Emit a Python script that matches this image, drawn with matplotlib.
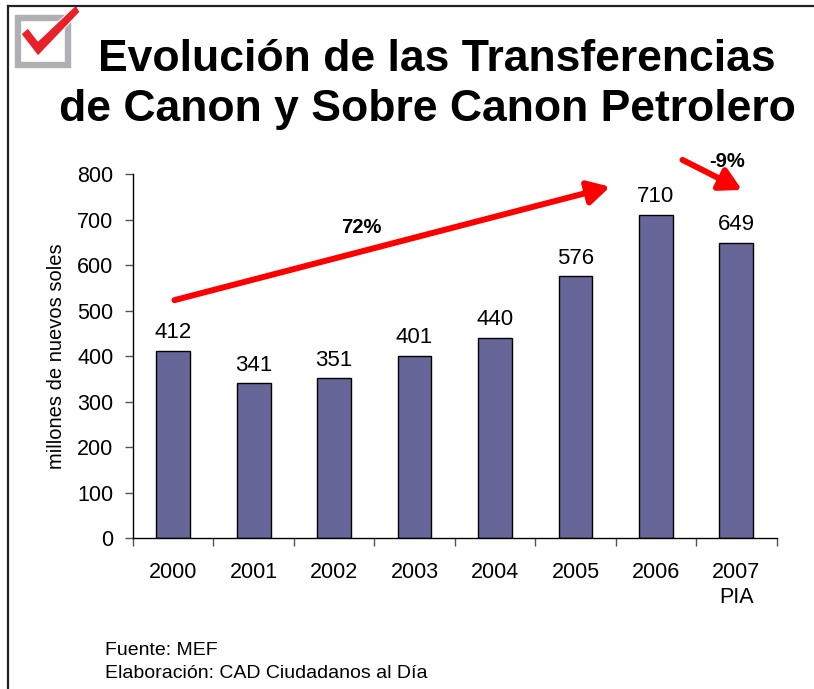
import matplotlib
matplotlib.use("Agg")
import matplotlib.pyplot as plt
from matplotlib.patches import Rectangle, Polygon, FancyArrowPatch, ArrowStyle
from matplotlib.lines import Line2D

plt.rcParams['font.family'] = ['Liberation Sans', 'DejaVu Sans']

# ---- data ----
categories = ["2000", "2001", "2002", "2003", "2004", "2005", "2006", "2007\nPIA"]
values = [412, 341, 351, 401, 440, 576, 710, 649]
yticks = [0, 100, 200, 300, 400, 500, 600, 700, 800]
growth_labels = ["72%", "-9%"]
title_lines = ["Evolución de las Transferencias", "de Canon y Sobre Canon Petrolero"]
ylabel = "millones de nuevos soles"
footer = ["Fuente: MEF", "Elaboración: CAD Ciudadanos al Día"]

W, H = 814, 689
fig = plt.figure(figsize=(W / 100, H / 100), dpi=100)

def fx(px):
    return px / W

def fy(py):
    return 1 - py / H

# frame lines
fig.add_artist(Line2D([fx(8), fx(8)], [0, fy(6)], color='#222222', lw=1.6, transform=fig.transFigure))
fig.add_artist(Line2D([fx(8), 1], [fy(6), fy(6)], color='#222222', lw=1.6, transform=fig.transFigure))

# check-box icon
fig.add_artist(Rectangle((fx(18), fy(65)), fx(68) - fx(18), fy(18) - fy(65), fill=False,
                         edgecolor='#b0b0b4', lw=4.6, transform=fig.transFigure))
check = [(21, 34), (28, 28), (38, 41), (76, 5), (80, 12), (38, 56)]
fig.add_artist(Polygon([(fx(a), fy(b)) for a, b in check], closed=True, facecolor='#e8202a',
                       edgecolor='white', lw=0.8, transform=fig.transFigure))

# title
fig.text(fx(436.5), fy(71), title_lines[0], ha='center', va='baseline', fontsize=32,
         fontweight='bold', color='black')
fig.text(fx(427.5), fy(121), title_lines[1], ha='center', va='baseline', fontsize=32,
         fontweight='bold', color='black')

# axes
left, right = 133, 776.6
top, bottom = 174, 538.3
ax = fig.add_axes([fx(left), fy(bottom), fx(right) - fx(left), fy(top) - fy(bottom)])
x = list(range(len(categories)))
ax.bar(x, values, width=0.42, color='#666699', edgecolor='black', linewidth=1.0, zorder=2)

ax.set_xlim(-0.5, len(categories) - 0.5)
ax.set_ylim(0, 800)
ax.set_yticks(yticks)
ax.set_yticklabels([str(t) for t in yticks], fontsize=15.5)
ax.tick_params(axis='y', length=6, width=1, color='#555555', pad=8)

ax.set_xticks([i - 0.5 for i in range(len(categories) + 1)])
ax.set_xticklabels([])
ax.tick_params(axis='x', which='major', length=6, width=1, color='#555555')
ax.set_xticks(x, minor=True)
ax.set_xticklabels(categories, minor=True, fontsize=15.5, linespacing=1.25)
ax.tick_params(axis='x', which='minor', length=0, pad=17)

for s in ['top', 'right']:
    ax.spines[s].set_visible(False)
for s in ['left', 'bottom']:
    ax.spines[s].set_linewidth(1.0)
    ax.spines[s].set_color('black')

ax.set_ylabel(ylabel, fontsize=14.5, labelpad=8)

for xi, v in zip(x, values):
    ax.annotate(str(v), (xi, v), xytext=(0, 9), textcoords='offset points',
                ha='center', va='baseline', fontsize=16)

# growth arrows
style = ArrowStyle('-|>', head_length=1.0, head_width=0.55)
a1 = FancyArrowPatch((0.015, 523), (5.43, 772), arrowstyle=style, mutation_scale=13,
                     color='#ff0000', lw=4.3, clip_on=False, shrinkA=0, shrinkB=0, zorder=5)
ax.add_patch(a1)
a2 = FancyArrowPatch((6.33, 831), (7.07, 765), arrowstyle=style, mutation_scale=13,
                     color='#ff0000', lw=4.3, clip_on=False, shrinkA=0, shrinkB=0, zorder=5)
ax.add_patch(a2)
ax.text(2.34, 682, growth_labels[0], ha='center', va='center', fontsize=14.5, fontweight='bold',
        clip_on=False)
ax.text(6.88, 828, growth_labels[1], ha='center', va='center', fontsize=14.5, fontweight='bold',
        clip_on=False)

# footer
fig.text(fx(105), fy(655), footer[0], ha='left', va='baseline', fontsize=14)
fig.text(fx(105), fy(678), footer[1], ha='left', va='baseline', fontsize=14)

fig.savefig("out.png", dpi=100)
